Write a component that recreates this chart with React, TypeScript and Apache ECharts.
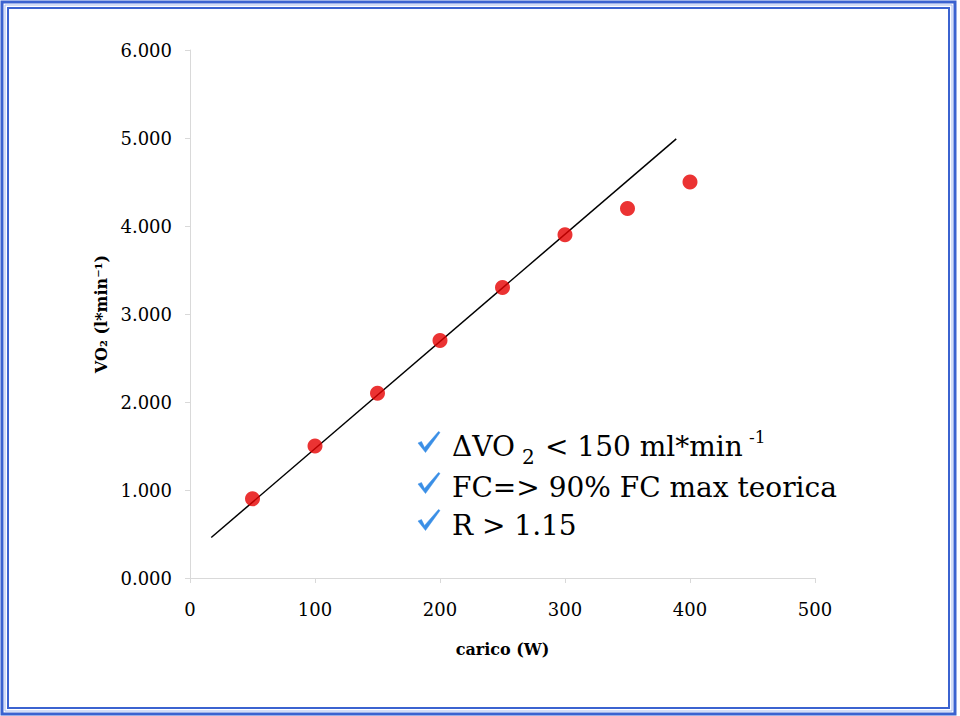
import React, { useEffect, useRef } from "react";
import * as echarts from "echarts";

const loads = [50, 100, 150, 200, 250, 300, 350, 400];
const vo2 = [0.9, 1.5, 2.1, 2.7, 3.3, 3.9, 4.2, 4.5];
const trendX = [17, 389];
const trendY = [0.46, 4.99];
const xTicks = [0, 100, 200, 300, 400, 500];
const yMax = 6;

const SERIF = "DejaVu Serif";
const BLUE = "#3b63d0";
const CHECK = "#3a8fe6";

export default function App() {
  const ref = useRef<HTMLDivElement>(null);
  useEffect(() => {
    if (!ref.current) return;
    const chart = echarts.init(ref.current, null, { renderer: "svg" });
    const txt = (text: string, x: number, y: number, size: number, fill = "#000", family = SERIF) => ({
      type: "text",
      style: {
        text,
        x,
        y,
        fontFamily: family,
        fontSize: size,
        fill,
        textVerticalAlign: "middle",
        verticalAlign: "middle",
      },
    });
    const check = (bx: number, by: number) => ({
      type: "polygon",
      shape: {
        points: [
          [bx - 6, by - 9],
          [bx - 2.5, by - 10.5],
          [bx + 0.5, by - 4.5],
          [bx + 14.5, by - 20.5],
          [bx + 16, by - 19.5],
          [bx + 1.5, by + 0.5],
        ],
      },
      style: { fill: CHECK, stroke: CHECK, lineWidth: 0.5 },
    });
    chart.setOption({
      animation: false,
      backgroundColor: "#ffffff",
      grid: { left: 190, right: 145, top: 50, bottom: 138 },
      xAxis: {
        type: "value",
        min: xTicks[0],
        max: xTicks[xTicks.length - 1],
        interval: 100,
        name: "carico (W)",
        nameLocation: "middle",
        nameGap: 63,
        nameTextStyle: { fontFamily: SERIF, fontWeight: "bold", fontSize: 16, color: "#000" },
        axisLine: { show: true, lineStyle: { color: "#d9d9d9", width: 1 } },
        axisTick: { show: true, length: 5, lineStyle: { color: "#d9d9d9" } },
        axisLabel: { color: "#000", fontFamily: SERIF, fontSize: 18, margin: 22 },
        splitLine: { show: false },
      },
      yAxis: {
        type: "value",
        min: 0,
        max: yMax,
        interval: 1,
        name: "VO₂ (l*min⁻¹)",
        nameLocation: "middle",
        nameRotate: 90,
        nameGap: 73,
        nameTextStyle: { fontFamily: SERIF, fontWeight: "bold", fontSize: 16, color: "#000" },
        axisLine: { show: true, lineStyle: { color: "#d9d9d9", width: 1 } },
        axisTick: { show: true, length: 5, lineStyle: { color: "#d9d9d9" } },
        axisLabel: {
          color: "#000",
          fontFamily: SERIF,
          fontSize: 18,
          margin: 18,
          formatter: (v: number) => v.toFixed(3),
        },
        splitLine: { show: false },
      },
      series: [
        {
          type: "line",
          data: trendX.map((x, i) => [x, trendY[i]]),
          showSymbol: false,
          symbol: "none",
          lineStyle: { color: "#000", width: 1.5 },
          z: 2,
        },
        {
          type: "scatter",
          data: loads.map((x, i) => [x, vo2[i]]),
          symbolSize: 15,
          itemStyle: { color: "#e60000" },
          z: 3,
        },
      ],
      graphic: [
        {
          type: "rect",
          shape: { x: 2, y: 2, width: 953, height: 712 },
          style: { fill: "none", stroke: BLUE, lineWidth: 3 },
          z: 10,
        },
        {
          type: "rect",
          shape: { x: 8, y: 8, width: 941, height: 700 },
          style: { fill: "none", stroke: BLUE, lineWidth: 2 },
          z: 10,
        },
        {
          type: "rect",
          shape: { x: 5, y: 5, width: 947, height: 706 },
          style: { fill: "none", stroke: "#a9bdf0", lineWidth: 1 },
          z: 10,
        },
        check(424, 452),
        check(424, 493),
        check(424, 530),
        txt("ΔVO", 452, 446, 28),
        txt("2", 522, 457, 20),
        txt("< 150 ml*min", 545, 446, 28),
        txt("-1", 749, 437, 17),
        txt("FC=> 90% FC max teorica", 452, 487, 28),
        txt("R > 1.15", 452, 525, 28),
      ],
    });
    return () => chart.dispose();
  }, []);
  return (
    <div
      ref={ref}
      style={{ position: "absolute", left: 0, top: 0, width: 960, height: 716, background: "#fff" }}
    />
  );
}
